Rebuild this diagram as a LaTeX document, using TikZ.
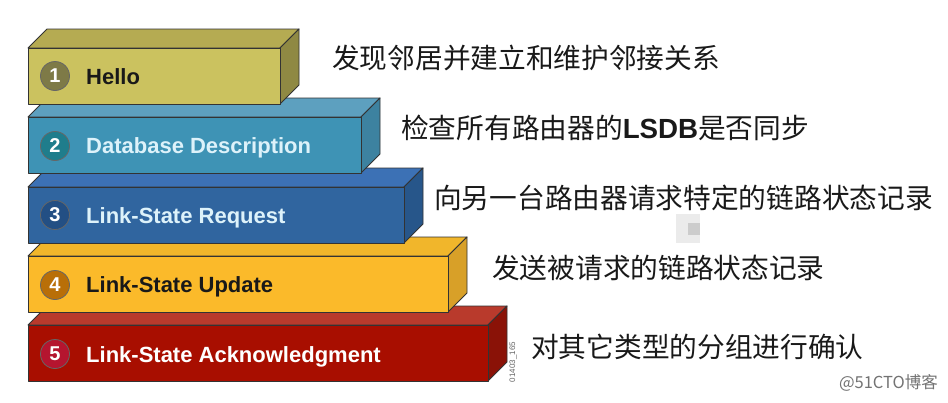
\documentclass[tikz,border=0pt]{standalone}
\usepackage{fontspec}
\setmainfont{Liberation Sans}
\newfontfamily\cjk{Noto Sans CJK SC}
\usepackage{tikz}
\definecolor{oliveF}{HTML}{CBC25F}\definecolor{oliveT}{HTML}{B5AB52}\definecolor{oliveS}{HTML}{8F8943}\definecolor{oliveB}{HTML}{7E7A47}
\definecolor{tealF}{HTML}{3E93B5}\definecolor{tealT}{HTML}{5DA0BF}\definecolor{tealS}{HTML}{3D82A0}\definecolor{tealB}{HTML}{1F7D8C}
\definecolor{blueF}{HTML}{30659F}\definecolor{blueT}{HTML}{3C71B5}\definecolor{blueS}{HTML}{27568A}\definecolor{blueB}{HTML}{234F84}
\definecolor{goldF}{HTML}{FBBA2A}\definecolor{goldT}{HTML}{F1B62B}\definecolor{goldS}{HTML}{D8A028}\definecolor{goldB}{HTML}{B96F08}
\definecolor{redF}{HTML}{A80E00}\definecolor{redT}{HTML}{B93A2C}\definecolor{redS}{HTML}{8A1207}\definecolor{redB}{HTML}{B5152F}
\definecolor{paleT}{HTML}{DDF2FA}
\tikzset{x=1pt,y=-1pt,
  edge/.style={draw=black!80,line width=0.9pt,line join=round},
  badge/.style={circle,draw=black!60,line width=0.8pt,minimum size=29pt,inner sep=0pt,text=white,font=\fontsize{20}{20}\selectfont\bfseries},
  title/.style={anchor=west,inner sep=0pt,text height=16pt,text depth=4pt,font=\fontsize{22}{22}\selectfont\bfseries},
  note/.style={anchor=west,inner sep=0pt,text=black!90,font=\fontsize{27.7}{28}\selectfont\cjk}
}
% one block: right edge, top edge, then front, top and side colours
\newcommand{\layerblock}[5]{
  \path[edge,fill=#4] (28,#2) -- (47,#2-19) -- (#1+19,#2-19) -- (#1,#2) -- cycle;
  \path[edge,fill=#5] (#1,#2) -- (#1+19,#2-19) -- (#1+19,#2+37) -- (#1,#2+56) -- cycle;
  \path[edge,fill=#3] (28,#2) rectangle (#1,#2+56);
}
\begin{document}
\begin{tikzpicture}
\useasboundingbox (0,0) rectangle (948,402);
\fill[white] (0,0) rectangle (948,402);
\layerblock{488}{325}{redF}{redT}{redS}
\layerblock{448}{256}{goldF}{goldT}{goldS}
\layerblock{404}{187}{blueF}{blueT}{blueS}
\layerblock{361}{117}{tealF}{tealT}{tealS}
\layerblock{280}{48}{oliveF}{oliveT}{oliveS}
\node [badge,fill=oliveB] (one) at (55,76) {1};
\node [badge,fill=tealB] (two) at (55,146) {2};
\node [badge,fill=blueB] (three) at (55,215) {3};
\node [badge,fill=goldB] (four) at (55,285) {4};
\node [badge,fill=redB] (five) at (55,354) {5};
\node [title,text=black!90] (hello) at (86,78) {Hello};
\node [title,text=paleT] (dbd) at (86,147) {Database Description};
\node [title,text=paleT] (lsr) at (86,217) {Link-State Request};
\node [title,text=black!90] (lsu) at (86,286) {Link-State Update};
\node [title,text=white] (lsack) at (86,356) {Link-State Acknowledgment};
\node [note] (n1) at (332,58) {发现邻居并建立和维护邻接关系};
\node [note] (n2) at (401,128) {检查所有路由器的{\bfseries\fontspec{Liberation Sans}LSDB}是否同步};
\node [note] (n3) at (434,198) {向另一台路由器请求特定的链路状态记录};
\node [note] (n4) at (492,268) {发送被请求的链路状态记录};
\node [note] (n5) at (531,347) {对其它类型的分组进行确认};
\fill[black!8] (676,214) rectangle (700,243);
\fill[black!20] (688,223) rectangle (700,235);
\node [rotate=90,inner sep=0pt,text=black!60,font=\fontsize{8}{8}\selectfont] (tag) at (513,362) {01403\_165};
\node [anchor=east,inner sep=0pt,text=black!55,font=\fontsize{16.5}{17}\selectfont\cjk] (mark) at (938,383) {@51CTO博客};
\end{tikzpicture}
\end{document}
